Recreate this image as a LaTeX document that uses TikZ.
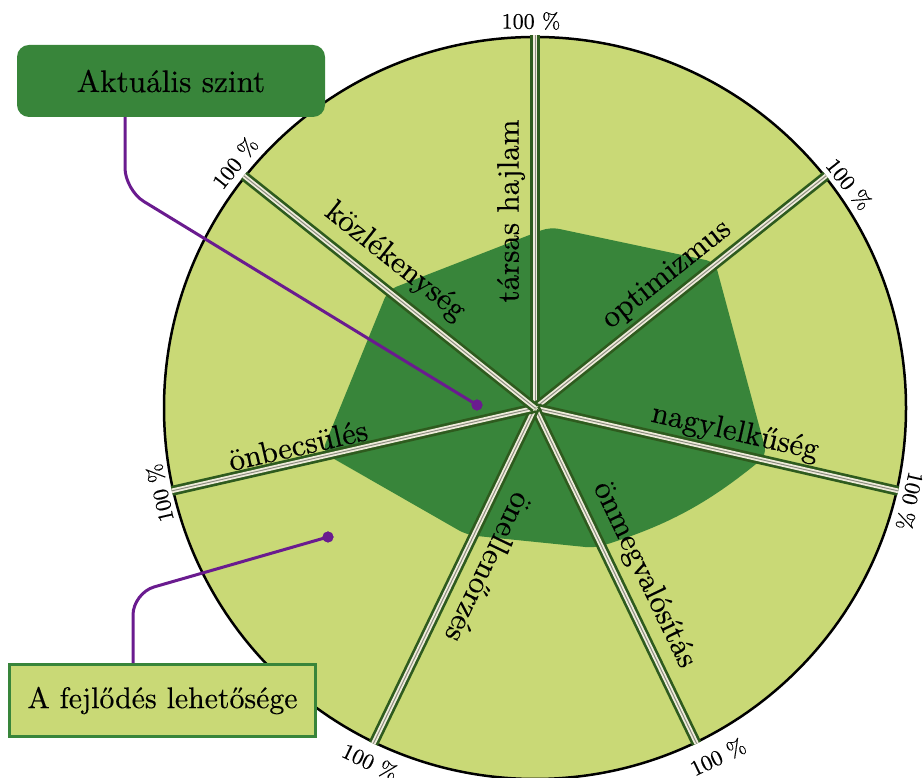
\documentclass[tikz,border=0pt]{standalone}
\usepackage{fontspec}
\newfontfamily\heavylm{lmroman10-regular.otf}[FakeBold=0.35]
\usetikzlibrary{calc}
\definecolor{lightg}{HTML}{C9D976}
\definecolor{darkg}{HTML}{38853A}
\definecolor{spokeg}{HTML}{2E5B1E}
\definecolor{cream}{HTML}{EEEBDA}
\definecolor{stripe}{HTML}{8C8C80}
\definecolor{purp}{HTML}{6A1B8F}
\begin{document}
\begin{tikzpicture}[x=1pt,y=1pt,
  lbl/.style={font=\heavylm\fontsize{31}{36}\selectfont, inner sep=0pt},
  pct/.style={font=\heavylm\fontsize{22}{26}\selectfont, inner sep=0pt},
  spokeA/.style={line width=10pt, spokeg},
  spokeB/.style={line width=4.6pt, cream},
  spokeC/.style={line width=1pt, stripe},
  callline/.style={purp, line width=3pt, rounded corners=22pt},
  dotst/.style={circle, fill=purp, inner sep=0pt, minimum size=11pt},
  boxone/.style={fill=darkg, rounded corners=12pt, minimum width=308pt, minimum height=72pt, inner sep=0pt, font=\heavylm\fontsize{31.2}{36}\selectfont},
  boxtwo/.style={fill=lightg, draw=darkg, line width=2.5pt, minimum width=306pt, minimum height=72pt, inner sep=0pt, font=\heavylm\fontsize{29.8}{35}\selectfont},
]
\useasboundingbox (0,0) rectangle (923,778);
\coordinate (C) at (535,370);
\def\R{371}
\fill[lightg] (C) circle (\R);
% current level polygon
\coordinate (V1) at (550,551);
\coordinate (V2) at (715,516);
\coordinate (V3) at (767,323);
\coordinate (V4) at (595,230);
\coordinate (V5) at (467,243);
\coordinate (V6) at (322,326);
\coordinate (V7) at (388,488);
\fill[darkg, rounded corners=9pt] (V1) -- (V2) -- (V3) to[bend left=11] (V4) -- (V5) -- (V6) -- (V7) -- cycle;
\draw[black, line width=2.5pt] (C) circle (\R);
% spokes
\foreach \a [count=\i] in {90,38.571,-12.857,-64.286,-115.714,-167.143,141.429}
  {\coordinate (e\i) at ($(C)+(\a:\R+1.5)$);}
\foreach \i in {1,...,7}{
  \draw[spokeA] (C) -- (e\i);
  \draw[spokeB] (C) -- (e\i);
  \draw[spokeC] (C) -- (e\i);
}
% labels
\node[lbl, rotate=90] (l1) at (511,567) {társas hajlam};
\node[lbl, rotate=38.571] (l2) at (667,503) {optimizmus};
\node[lbl, rotate=-12.857] (l3) at (735,345) {nagylelkűség};
\node[lbl, rotate=-64.286] (l4) at (644,203) {önmegvalósítás};
\node[lbl, rotate=-115.714] (l5) at (489,210) {önellenőrzés};
\node[lbl, rotate=12.857] (l6) at (298,333) {önbecsülés};
\node[lbl, rotate=-38.571] (l7) at (395,516) {közlékenység};
% 100 % marks
\node[pct] (p1) at (531,757) {100 \%};
\node[pct, rotate=-51.429] (p2) at (849,594) {100 \%};
\node[pct, rotate=-102.857] (p3) at (910,277) {100 \%};
\node[pct, rotate=25.714] (p4) at (718,21) {100 \%};
\node[pct, rotate=-25.714] (p5) at (370,16) {100 \%};
\node[pct, rotate=102.857] (p6) at (160,285) {100 \%};
\node[pct, rotate=51.429] (p7) at (235,615) {100 \%};
% callouts
\node[dotst] (d1) at (477,373) {};
\node[dotst] (d2) at (328,241) {};
\coordinate (k1) at (125,588);
\coordinate (k2) at (133,185);
\node[boxone] (akt) at (171,697) {Aktuális szint};
\node[boxtwo] (fejl) at (162.5,77.5) {A fejlődés lehetősége};
\draw[callline] (akt.south -| k1) -- (k1) -- (d1.center);
\draw[callline] (fejl.north -| k2) -- (k2) -- (d2.center);
\node[dotst] at (d1) {};
\node[dotst] at (d2) {};
\end{tikzpicture}
\end{document}
